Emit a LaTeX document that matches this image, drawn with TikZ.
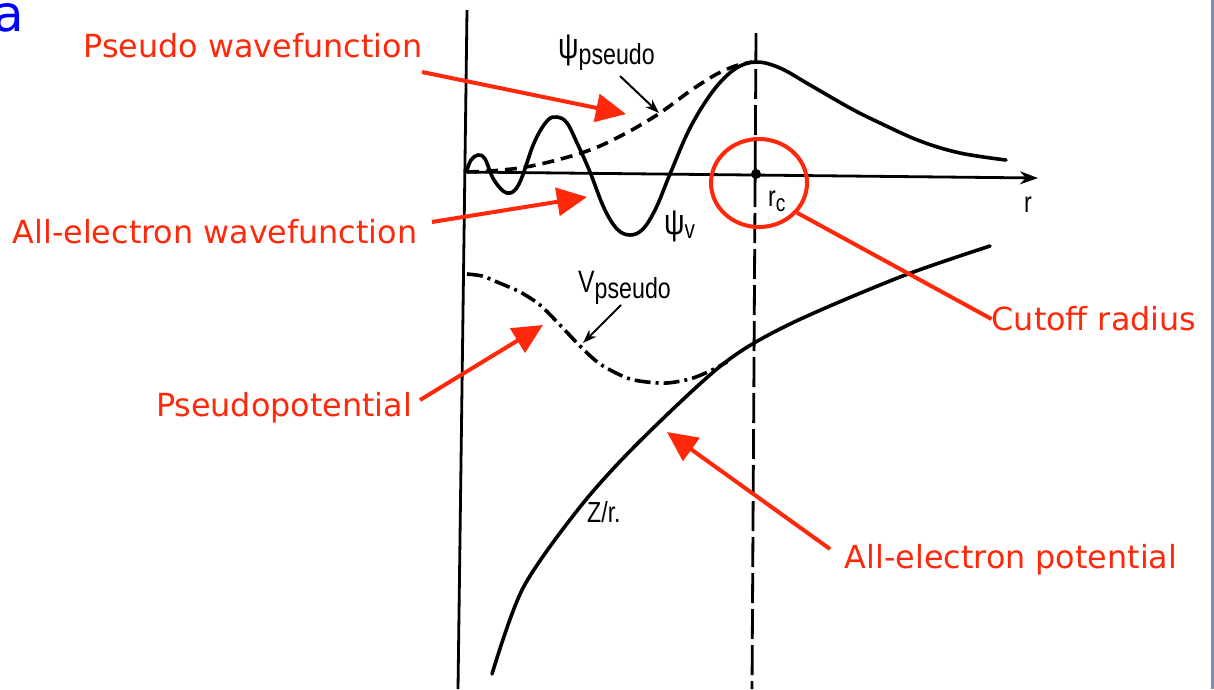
\documentclass[tikz,border=0pt]{standalone}
\usepackage{fontspec}
\setmainfont{DejaVu Sans}
\newfontfamily\labfont{Liberation Sans}
\usetikzlibrary{arrows.meta,shapes.geometric}
\definecolor{redlab}{RGB}{255,40,10}
\definecolor{bluea}{RGB}{0,0,255}
\definecolor{edgecol}{RGB}{125,140,175}
\tikzset{
  curve/.style={line width=3.6pt,black,line cap=round},
  axisline/.style={line width=2.8pt,black},
  redarrow/.style={line width=4pt,redlab,-{Triangle[length=30pt,width=28pt]}},
  redline/.style={line width=4pt,redlab},
  redtext/.style={text=redlab,font=\fontsize{31.8}{36}\selectfont,inner sep=0pt},
  blacktext/.style={font=\labfont\fontsize{29}{32}\selectfont,inner sep=0pt,xscale=0.8},
  smallarrow/.style={line width=2pt,-{Stealth[length=14pt,width=10pt]}}
}
\begin{document}
\begin{tikzpicture}[x=1pt,y=-1pt]
\useasboundingbox (0,0) rectangle (1214,689);
\fill[white] (0,0) rectangle (1214,689);
\fill[edgecol] (1211,0) rectangle (1214,689);
% blue letter
\node[anchor=base west,text=bluea,font=\fontsize{50}{56}\selectfont,inner sep=0pt] (a) at (-7,31) {a};
% axes
\coordinate (ytop) at (467,10);
\coordinate (ybot) at (458,689);
\draw[axisline] (ytop) -- (ybot);
\coordinate (xleft) at (465,172);
\coordinate (xright) at (1038,178);
\draw[axisline,-{Stealth[length=18pt,width=13pt]}] (xleft) -- (xright);
\coordinate (rctop) at (756,33);
\coordinate (rcbot) at (752,689);
\draw[line width=2.8pt,dash pattern=on 30pt off 6pt] (rctop) -- (rcbot);
\fill (756,174) circle (5);
\node[blacktext,anchor=base] (rlab) at (1028,212) {r};
\node[blacktext,anchor=base west] (rclab) at (768,206) {r\raisebox{-5pt}{\fontsize{24}{26}\selectfont c}};
% psi_v
\draw[curve] plot[smooth,tension=0.6] coordinates {(467,170) (471,160) (478,155) (485,159) (494,180) (507,193) (519,184) (534,143) (547,121) (557,117) (567,123) (578,145) (590,172) (604,208) (617,229) (630,235) (643,229) (656,208) (670,174) (690,128) (713,91) (735,69) (756,62) (780,68) (810,85) (850,108) (880,123) (920,141) (960,153) (1006,160)};
% psi_pseudo
\draw[curve,line cap=butt,dash pattern=on 12pt off 7pt] plot[smooth] coordinates {(467,172) (490,171) (520,168) (545,163) (575,155) (600,146) (630,131) (660,113) (690,91) (715,75) (735,66) (752,62)};
% V_pseudo
\draw[curve,line cap=butt,dash pattern=on 16pt off 5pt on 3pt off 5pt] plot[smooth] coordinates {(467,274) (482,276) (497,282) (520,292) (540,305) (560,325) (580,346) (600,364) (627,378) (647,382) (667,383) (690,379) (710,371) (727,362)};
% Z/r
\draw[curve] plot[smooth] coordinates {(492,674) (523,588) (580,507) (637,444) (723,364) (790,324) (900,277) (990,246)};
% black labels
\node[blacktext,anchor=base west] (psipseudo) at (558,58) {\fontsize{36}{38}\selectfont ψ\raisebox{-6pt}{\fontsize{29}{32}\selectfont pseudo}};
\coordinate (pp1) at (620,76);
\coordinate (pp2) at (659,113);
\draw[smallarrow] (pp1) -- (pp2);
\node[blacktext,anchor=base west] (psiv) at (664,234) {\fontsize{36}{38}\selectfont ψ\raisebox{-4pt}{\fontsize{26}{28}\selectfont v}};
\node[blacktext,anchor=base west] (vpseudo) at (578,292) {\fontsize{31}{34}\selectfont V\raisebox{-6pt}{\fontsize{29}{32}\selectfont pseudo}};
\coordinate (vp1) at (621,305);
\coordinate (vp2) at (583,343);
\draw[smallarrow] (vp1) -- (vp2);
\node[blacktext,anchor=base west] (zr) at (587,522) {Z/r.};
% red labels
\node[redtext] (pw) at (253,46) {Pseudo wavefunction};
\node[redtext] (aew) at (215,232) {All-electron wavefunction};
\node[redtext] (pp) at (284,408) {Pseudopotential};
\node[redtext] (cut) at (1094,319) {Cutoff radius};
\node[redtext] (aep) at (1011,560) {All-electron potential};
\node[draw=redlab,line width=4pt,ellipse,minimum width=96pt,minimum height=88pt,inner sep=0pt] (circ) at (759,183) {};
% red connectors
\coordinate (s1) at (422,72);
\coordinate (s2) at (432,222);
\coordinate (s3) at (420,400);
\coordinate (s5) at (830,549);
\coordinate (t1) at (626,114);
\coordinate (t2) at (587,197);
\coordinate (t3) at (543,325);
\coordinate (t5) at (667,432);
\draw[redarrow] (s1) -- (t1);
\draw[redarrow] (s2) -- (t2);
\draw[redarrow] (s3) -- (t3);
\draw[redline] (circ.-38) -- (cut.west);
\draw[redarrow] (s5) -- (t5);
\end{tikzpicture}
\end{document}
